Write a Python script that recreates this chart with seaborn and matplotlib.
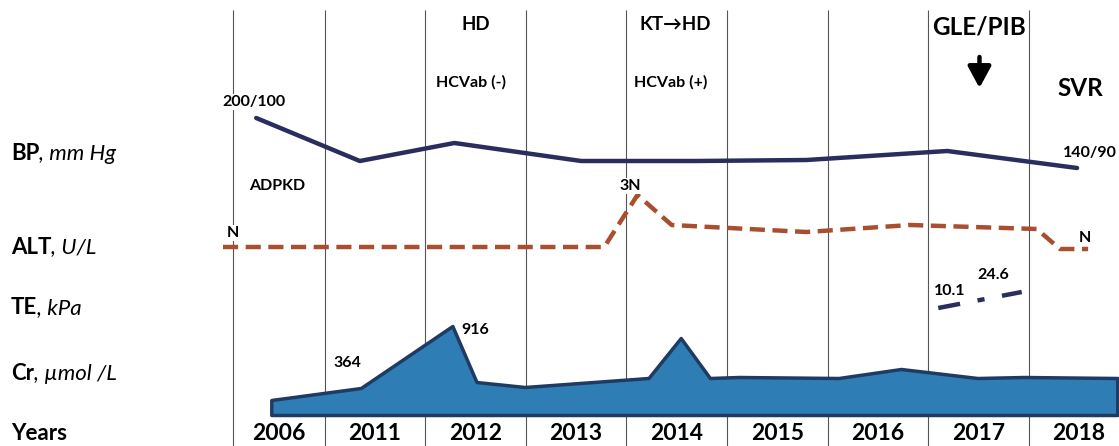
import matplotlib
matplotlib.use("Agg")
import matplotlib.pyplot as plt
import seaborn as sns
import pandas as pd

# ---------------- data ----------------
years = ["2006", "2011", "2012", "2013", "2014", "2015", "2016", "2017", "2018"]
year_bounds = [0.09, 1, 2, 3, 4, 5, 6, 7, 8]
year_centers = [0.545, 1.5, 2.5, 3.5, 4.5, 5.5, 6.5, 7.5, 8.5]

row_names = ["BP", "ALT", "TE", "Cr", "Years"]
row_units = [", mm Hg", ", U/L", ", kPa", ", µmol /L", ""]
row_levels = [29.3, 19.9, 13.8, 7.3, 1.3]

bp_t = [0.32, 1.35, 2.29, 3.55, 4.70, 5.79, 7.19, 8.48]
bp_v = [32.8, 28.5, 30.3, 28.5, 28.5, 28.6, 29.5, 27.8]

alt_t = [-0.01, 3.78, 4.11, 4.45, 5.79, 6.82, 8.08, 8.31, 8.59]
alt_v = [19.9, 19.9, 25.1, 22.1, 21.4, 22.1, 21.7, 19.7, 19.7]

te_t = [7.10, 7.93]
te_v = [13.8, 15.4]

cr_t = [0.47, 1.36, 2.27, 2.51, 2.99, 4.22, 4.54, 4.83, 5.12, 6.11, 6.73, 7.49, 7.95, 8.88]
cr_v = [4.6, 5.8, 12.0, 6.4, 5.9, 6.8, 10.8, 6.8, 6.9, 6.8, 7.7, 6.8, 6.9, 6.8]
cr_base = 3.1

# annotations: (text, x, y)
small_notes = [
    ("200/100", 0.30, 34.4), ("ADPKD", 0.53, 26.0), ("N", 0.09, 21.3),
    ("HCVab (-)", 2.46, 36.4), ("HCVab (+)", 4.44, 36.4), ("3N", 4.04, 26.0),
    ("140/90", 8.61, 29.3), ("N", 8.56, 20.8), ("10.1", 7.21, 15.5),
    ("24.6", 7.65, 17.1), ("364", 1.23, 8.3), ("916", 2.50, 11.6),
]
mid_notes = [("HD", 2.50, 42.2), ("KT→HD", 4.49, 42.2)]
big_notes = [("GLE/PIB", 7.51, 41.9), ("SVR", 8.51, 35.7)]
arrow_x, arrow_y0, arrow_y1 = 7.51, 38.9, 35.8

# ---------------- style ----------------
sns.set_theme(style="white")
plt.rcParams['font.family'] = ['Lato', 'DejaVu Sans']
FONT = ['Lato', 'DejaVu Sans']

navy = "#2A2D5E"
rust = "#A94E2E"
fill_blue = "#2E7DB5"
edge_blue = "#1F3B63"

fig = plt.figure(figsize=(11.19, 4.46), dpi=100)
ax = fig.add_axes([0, 0, 1, 1])

# vertical year separators
ax.vlines(year_bounds, 0, 43.6, color="#555555", linewidth=0.8, zorder=1)

# Cr area
ax.fill_between(cr_t, cr_base, cr_v, facecolor=fill_blue, edgecolor=edge_blue,
                linewidth=2.5, zorder=3)

# BP line
bp_df = pd.DataFrame({"t": bp_t, "v": bp_v})
sns.lineplot(data=bp_df, x="t", y="v", ax=ax, color=navy, linewidth=3.2,
             sort=False, zorder=4)

# ALT dashed line
alt_df = pd.DataFrame({"t": alt_t, "v": alt_v})
sns.lineplot(data=alt_df, x="t", y="v", ax=ax, color=rust, linewidth=3.2,
             sort=False, zorder=4)
ax.lines[-1].set_dashes((3.4, 1.7))
ax.lines[-1].set_dash_capstyle("butt")

# TE dash-dot line
te_df = pd.DataFrame({"t": te_t, "v": te_v})
sns.lineplot(data=te_df, x="t", y="v", ax=ax, color=navy, linewidth=3.2,
             sort=False, zorder=4)
ax.lines[-1].set_dashes((5.0, 4.0, 1.6, 4.0))
ax.lines[-1].set_dash_capstyle("butt")

ax.set_xlim(-2.227, 8.897)
ax.set_ylim(0, 44.6)
ax.axis("off")

white_box = dict(facecolor="white", edgecolor="none", pad=1.0)
for txt, x, y in small_notes:
    ax.text(x, y, txt, ha="center", va="center", fontsize=11.5,
            fontweight="bold", family=FONT, color="black", zorder=5, bbox=white_box)
for txt, x, y in mid_notes:
    ax.text(x, y, txt, ha="center", va="center", fontsize=13.5,
            fontweight="bold", family=FONT, color="black", zorder=5)
for txt, x, y in big_notes:
    ax.text(x, y, txt, ha="center", va="center", fontsize=17.5,
            fontweight="bold", family=FONT, color="black", zorder=5)

ax.annotate("", xy=(arrow_x, arrow_y1), xytext=(arrow_x, arrow_y0),
            arrowprops=dict(arrowstyle="-|>,head_length=0.65,head_width=0.35",
                            lw=3.2, color="black", mutation_scale=20,
                            shrinkA=0, shrinkB=0), zorder=5)

# year labels
for yr, xc in zip(years, year_centers):
    ax.text(xc, row_levels[-1], yr, ha="center", va="center", fontsize=16.5,
            fontweight="bold", family=FONT, color="black", zorder=5)

# row labels (bold name + italic unit)
label_x = -2.12
for name, unit, lev in zip(row_names, row_units, row_levels):
    t = ax.text(label_x, lev, name, ha="left", va="center", fontsize=16,
                fontweight="bold", family=FONT, color="black")
    if unit:
        ax.annotate(unit, xy=(1, 0), xycoords=t, ha="left", va="bottom",
                    fontsize=16, fontstyle="italic", family=FONT, color="black")

fig.savefig("out.png", dpi=100)
